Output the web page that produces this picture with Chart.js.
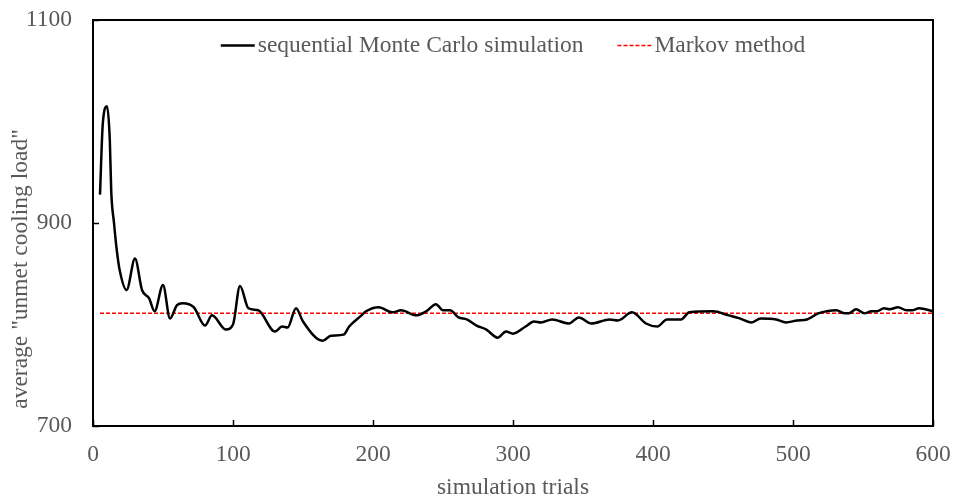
<!DOCTYPE html>
<html>
<head>
<meta charset="utf-8">
<script src="https://cdn.jsdelivr.net/npm/chart.js@4.4.0/dist/chart.umd.min.js"></script>
<style>
  html, body { margin: 0; padding: 0; background: #fff; }
  #wrap { width: 958px; height: 500px; }
</style>
</head>
<body>
<div id="wrap"><canvas id="chart"></canvas></div>
<script>
// simulation trial count (x) and running average of unmet cooling load (y)
const trials = [5, 7, 10, 12, 13, 15, 17, 19, 24, 30, 35, 40, 44, 50, 55, 60, 64, 72, 80, 85,
  95, 100, 105, 111, 118, 130, 135, 139, 145, 150, 164, 170, 179, 183, 191, 195, 204, 214,
  220, 231, 238, 245, 250, 255, 261, 267, 274, 281, 289, 295, 300, 309, 315, 320, 328, 340,
  347, 356, 369, 375, 385, 395, 403, 410, 420, 426, 443, 454, 462, 470, 477, 488, 495, 503,
  510, 518, 524, 531, 537, 540, 545, 551, 556, 560, 565, 569, 575, 581, 585, 590, 600];
const unmetLoad = [928, 998, 1015, 982, 932, 900, 873, 854, 834, 865, 834, 826, 813, 839, 806,
  819, 821, 817, 799, 809, 795, 800, 838, 816, 814, 793, 798, 797, 816, 803, 784, 789, 790,
  798, 808, 813, 817, 812, 814, 809, 813, 820, 814, 814, 807, 805, 799, 795, 787, 793, 791,
  798, 803, 802, 805, 801, 807, 801, 805, 804, 812, 801, 798, 805, 805, 812, 813, 809, 806,
  802, 806, 805, 802, 804, 805, 811, 813, 814, 811, 811, 815, 811, 813, 813, 816, 815, 817,
  814, 814, 816, 813];

// Markov method result (constant)
const markovValue = 811;
const markovRange = [5, 600];

const xTickValues = [0, 100, 200, 300, 400, 500, 600];
const yTickValues = [700, 900, 1100];

const FONT = '"Liberation Serif", "Times New Roman", serif';
const FONT_SIZE = 23.5;
const TEXT_COLOR = '#595959';

// box around the plot with short inward tick marks
const framePlugin = {
  id: 'frame',
  afterDatasetsDraw(chart) {
    const { ctx, chartArea: a, scales } = chart;
    ctx.save();
    ctx.strokeStyle = '#000';
    ctx.lineWidth = 1.5;
    ctx.beginPath();
    xTickValues.forEach(v => {
      const px = Math.round(scales.x.getPixelForValue(v)) + 0.5;
      ctx.moveTo(px, a.bottom);
      ctx.lineTo(px, a.bottom - 6);
    });
    yTickValues.forEach(v => {
      const py = Math.round(scales.y.getPixelForValue(v)) + 0.5;
      ctx.moveTo(a.left, py);
      ctx.lineTo(a.left + 6, py);
    });
    ctx.stroke();
    ctx.lineWidth = 2;
    ctx.strokeRect(a.left, a.top, a.right - a.left, a.bottom - a.top);
    ctx.restore();
  }
};

// legend drawn inside the top of the plot, plus the y axis title
const legendPlugin = {
  id: 'innerLegend',
  afterDraw(chart) {
    const { ctx, chartArea: a } = chart;
    ctx.save();
    ctx.font = FONT_SIZE + 'px ' + FONT;
    ctx.textBaseline = 'middle';
    ctx.textAlign = 'left';
    const sampleW = 34, textGap = 3, itemGap = 34;
    const items = chart.data.datasets.map(ds => ({
      ds, w: sampleW + textGap + ctx.measureText(ds.label).width
    }));
    const total = items.reduce((s, it) => s + it.w, 0) + itemGap * (items.length - 1);
    let x = (a.left + a.right) / 2 - total / 2;
    const y = Math.round(a.top + 25) + 0.5;
    items.forEach(it => {
      ctx.beginPath();
      ctx.strokeStyle = it.ds.borderColor;
      ctx.lineWidth = it.ds.borderWidth;
      ctx.setLineDash(it.ds.borderDash || []);
      ctx.moveTo(x, y);
      ctx.lineTo(x + sampleW, y);
      ctx.stroke();
      ctx.setLineDash([]);
      ctx.fillStyle = TEXT_COLOR;
      ctx.fillText(it.ds.label, x + sampleW + textGap, y);
      x += it.w + itemGap;
    });

    ctx.textAlign = 'center';
    ctx.translate(21, 269);
    ctx.rotate(-Math.PI / 2);
    ctx.fillText('average "unmet cooling load"', 0, 0);
    ctx.restore();
  }
};

const config = {
  type: 'line',
  data: {
    datasets: [
      {
        label: 'sequential Monte Carlo simulation',
        data: trials.map((t, i) => ({ x: t, y: unmetLoad[i] })),
        borderColor: '#000',
        borderWidth: 2.5,
        pointRadius: 0,
        cubicInterpolationMode: 'monotone',
        fill: false,
      },
      {
        label: 'Markov method',
        data: markovRange.map(t => ({ x: t, y: markovValue })),
        borderColor: '#ff0000',
        borderWidth: 1.5,
        borderDash: [4, 2],
        pointRadius: 0,
        fill: false,
      },
    ],
  },
  options: {
    responsive: true,
    maintainAspectRatio: false,
    animation: false,
    layout: { padding: { top: 20, right: 25, left: 0, bottom: 0 } },
    scales: {
      x: {
        type: 'linear',
        min: 0,
        max: 600,
        afterFit: s => { s.height = 74; s.paddingLeft = 0; s.paddingRight = 0; },
        afterBuildTicks: s => { s.ticks = xTickValues.map(v => ({ value: v })); },
        grid: { display: false, drawTicks: false },
        border: { display: false },
        ticks: {
          color: TEXT_COLOR, font: { family: FONT, size: FONT_SIZE }, padding: 15, maxRotation: 0,
          callback: v => String(v),
        },
        title: {
          display: true,
          text: 'simulation trials',
          color: TEXT_COLOR,
          font: { family: FONT, size: FONT_SIZE, lineHeight: 1 },
          padding: { top: 0, bottom: 0 },
        },
      },
      y: {
        min: 700,
        max: 1100,
        afterFit: s => { s.width = 93; s.paddingTop = 0; s.paddingBottom = 0; },
        afterBuildTicks: s => { s.ticks = yTickValues.map(v => ({ value: v })); },
        grid: { display: false, drawTicks: false },
        border: { display: false },
        ticks: {
          color: TEXT_COLOR, font: { family: FONT, size: FONT_SIZE }, padding: 21,
          callback: v => String(v),
        },
      },
    },
    plugins: {
      legend: { display: false },
      tooltip: { enabled: false },
    },
  },
  plugins: [framePlugin, legendPlugin],
};

new Chart(document.getElementById('chart'), config);
</script>
</body>
</html>
